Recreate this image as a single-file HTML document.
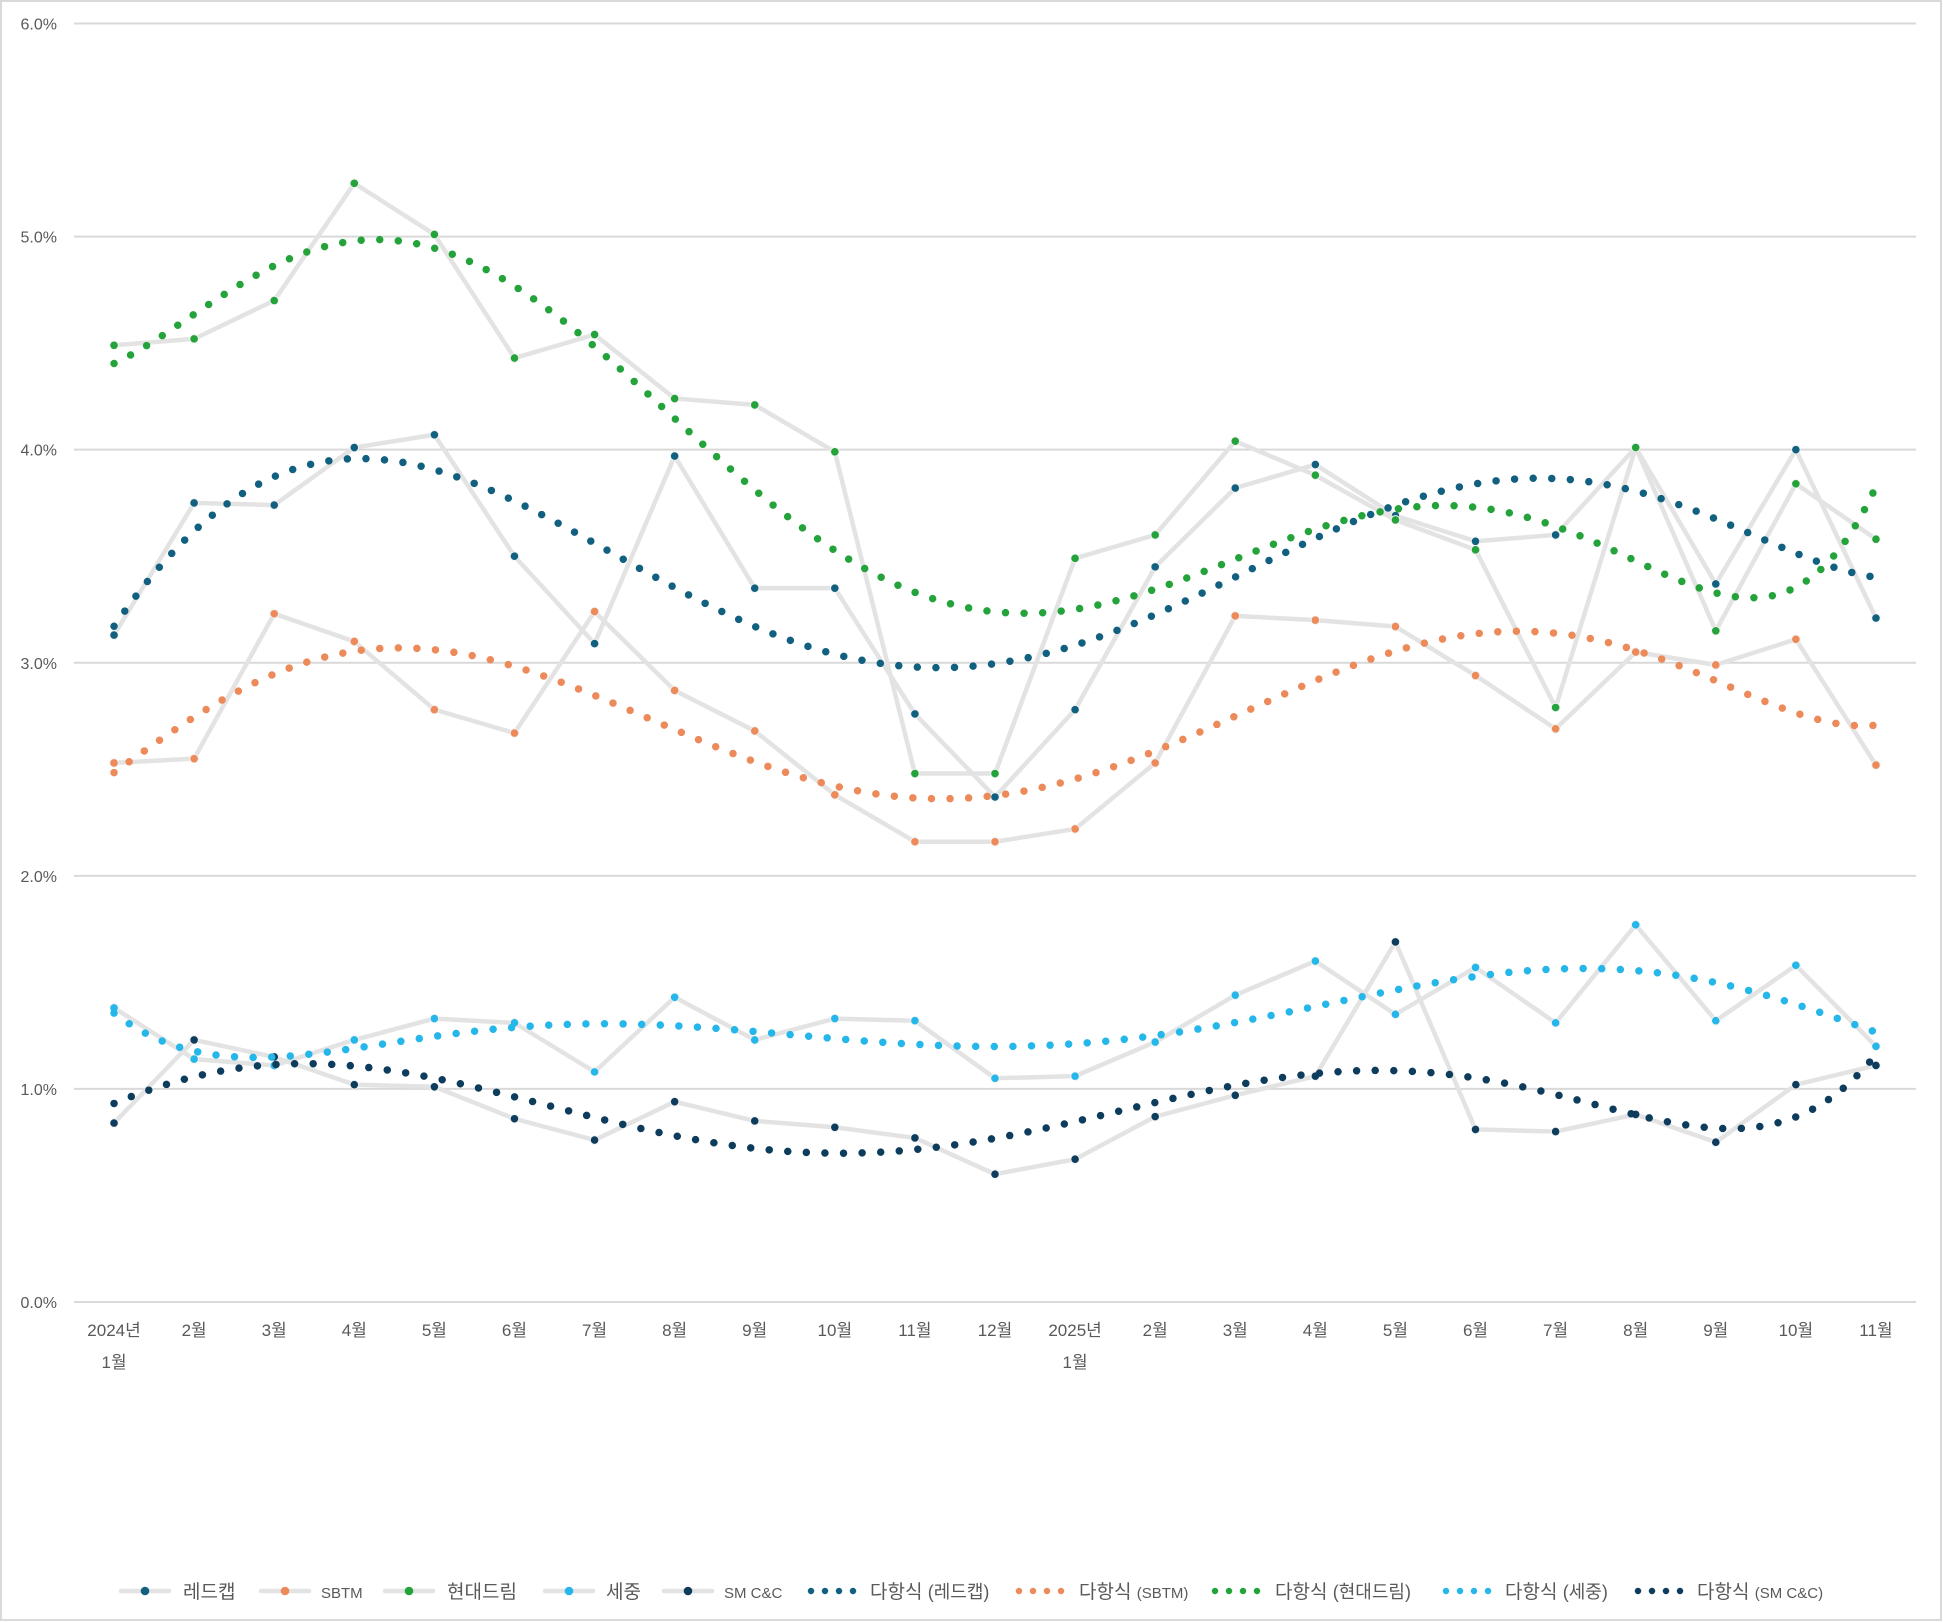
<!DOCTYPE html>
<html><head><meta charset="utf-8">
<style>
html,body{margin:0;padding:0;background:#fff;}
svg{display:block;font-family:"Liberation Sans","Noto Sans CJK KR",sans-serif;}
</style></head>
<body>
<svg id="chart" width="1943" height="1622" viewBox="0 0 1943 1622" xmlns="http://www.w3.org/2000/svg">
<rect x="1" y="1" width="1940" height="1619" fill="#fff" stroke="#d9d9d9" stroke-width="2"/>
<g id="grid"></g><g id="axes"></g><g id="lines"></g><g id="trends"></g><g id="legend"></g>
</svg>
<script>
const categories=["2024년|1월","2월","3월","4월","5월","6월","7월","8월","9월","10월","11월","12월","2025년|1월","2월","3월","4월","5월","6월","7월","8월","9월","10월","11월"];
const yTicks=[0,1,2,3,4,5,6];
const seriesNames=["레드캡","SBTM","현대드림","세중","SM C&C"];
const redcap=[3.13,3.75,3.74,4.01,4.07,3.50,3.09,3.97,3.35,3.35,2.76,2.37,2.78,3.45,3.82,3.93,3.69,3.57,3.60,4.01,3.37,4.00,3.21];
const sbtm=[2.53,2.55,3.23,3.10,2.78,2.67,3.24,2.87,2.68,2.38,2.16,2.16,2.22,2.53,3.22,3.20,3.17,2.94,2.69,3.05,2.99,3.11,2.52];
const hyundai=[4.49,4.52,4.70,5.25,5.01,4.43,4.54,4.24,4.21,3.99,2.48,2.48,3.49,3.60,4.04,3.88,3.67,3.53,2.79,4.01,3.15,3.84,3.58];
const sejung=[1.38,1.14,1.11,1.23,1.33,1.31,1.08,1.43,1.23,1.33,1.32,1.05,1.06,1.22,1.44,1.60,1.35,1.57,1.31,1.77,1.32,1.58,1.20];
const smcc=[0.84,1.23,1.15,1.02,1.01,0.86,0.76,0.94,0.85,0.82,0.77,0.60,0.67,0.87,0.97,1.06,1.69,0.81,0.80,0.88,0.75,1.02,1.11];
const colors=["#11607f","#ec8a5a","#23a33a","#25b6ea","#0d3c5c"];
const allSeries=[redcap,sbtm,hyundai,sejung,smcc];

const NS="http://www.w3.org/2000/svg";
const L=74,R=1916,T=23.5,B=1302,yMax=6;
const band=(R-L)/categories.length;
const xS=i=>L+band*(i+0.5);
const yS=v=>B-(B-T)*v/yMax;
function mk(tag,attrs,parent){const e=document.createElementNS(NS,tag);for(const k in attrs)e.setAttribute(k,attrs[k]);parent.appendChild(e);return e;}
const grid=document.getElementById('grid'),axes=document.getElementById('axes'),lines=document.getElementById('lines'),trends=document.getElementById('trends'),legend=document.getElementById('legend');

yTicks.forEach(t=>{
  const g=mk('line',{x1:L,x2:R,y1:yS(t),y2:yS(t),stroke:'#d9d9d9','stroke-width':2},grid);
  
  
  const tx=mk('text',{x:57,y:yS(t)+6,'text-anchor':'end','font-size':16,fill:'#595959'},axes);
  tx.textContent=t.toFixed(1)+'%';
  
  
});
categories.forEach((c,i)=>{
  const parts=c.split('|');
  parts.forEach((p,j)=>{
    const tx=mk('text',{x:xS(i),y:1336+j*32,'text-anchor':'middle','font-size':17,fill:'#595959'},axes);
    tx.textContent=p;
    
    
  });
});

function polyfit(ys,deg){
  const n=ys.length,xs=ys.map((_,i)=>(i-(n-1)/2)/((n-1)/2));
  const m=deg+1,A=[];
  for(let r=0;r<m;r++){A.push([]);for(let c=0;c<m;c++){let s=0;xs.forEach(x=>s+=Math.pow(x,r+c));A[r].push(s);}let s=0;xs.forEach((x,k)=>s+=Math.pow(x,r)*ys[k]);A[r].push(s);}
  for(let i=0;i<m;i++){let p=i;for(let k=i+1;k<m;k++)if(Math.abs(A[k][i])>Math.abs(A[p][i]))p=k;[A[i],A[p]]=[A[p],A[i]];
    for(let k=0;k<m;k++){if(k===i)continue;const f=A[k][i]/A[i][i];for(let c=i;c<=m;c++)A[k][c]-=f*A[i][c];}}
  const coef=A.map((r,i)=>r[m]/r[i]);
  return t=>{const x=(t-(n-1)/2)/((n-1)/2);let s=0;coef.forEach((c,i)=>s+=c*Math.pow(x,i));return s;};
}

allSeries.forEach((data,si)=>{
  const pts=data.map((v,i)=>xS(i)+','+yS(v)).join(' ');
  const pl=mk('polyline',{points:pts,fill:'none',stroke:'#e3e3e3','stroke-width':4.5,'stroke-linejoin':'round'},lines);
  
  
  data.forEach((v,i)=>{
    const c=mk('circle',{cx:xS(i),cy:yS(v),r:4.3,fill:colors[si],stroke:'#f2f2f2','stroke-width':1},lines);
    
    
  });
  const f=polyfit(data,6);let d='';
  for(let k=0;k<=220;k++){const t=k/10;d+=(k?'L':'M')+xS(t).toFixed(2)+','+yS(f(t)).toFixed(2);}
  const tp=mk('path',{d:d,fill:'none',stroke:colors[si],'stroke-width':7.5,'stroke-linecap':'round','stroke-dasharray':'0 18.6'},trends);
  
  
});

const legItems=[
 {x:121,tx:183,label:'레드캡',c:0,t:false,sm:false},{x:261,tx:321,label:'SBTM',c:1,t:false,sm:true},{x:385,tx:447,label:'현대드림',c:2,t:false,sm:false},
 {x:545,tx:606,label:'세중',c:3,t:false,sm:false},{x:664,tx:724,label:'SM C&C',c:4,t:false,sm:true},
 {x:808,tx:870,label:'다항식 (레드캡)',c:0,t:true,sm:false},{x:1016,tx:1079,label:'다항식 (SBTM)',c:1,t:true,sm:true},{x:1212,tx:1275,label:'다항식 (현대드림)',c:2,t:true,sm:false},
 {x:1443,tx:1505,label:'다항식 (세중)',c:3,t:true,sm:false},{x:1635,tx:1697,label:'다항식 (SM C&C)',c:4,t:true,sm:true}];
legItems.forEach(it=>{
  const g=mk('g',{},legend);
  
  
  const y=1591;
  if(!it.t){
    mk('line',{x1:it.x,x2:it.x+48,y1:y,y2:y,stroke:'#e3e3e3','stroke-width':4.5,'stroke-linecap':'round'},g);
    mk('circle',{cx:it.x+24,cy:y,r:4.3,fill:colors[it.c]},g);
  } else {
    mk('line',{x1:it.x+3,x2:it.x+48,y1:y,y2:y,stroke:colors[it.c],'stroke-width':6.5,'stroke-linecap':'round','stroke-dasharray':'0 14'},g);
  }
  const tx=mk('text',{x:it.tx,y:y+7,'font-size':it.sm&&!it.t?15:19,fill:'#595959'},g);
  if(it.t){const m=it.label.match(/^(\S+) (.*)$/);tx.innerHTML=m[1]+' <tspan font-size="'+(it.sm?15:18)+'">'+m[2]+'</tspan>';}
  else tx.textContent=it.label;
});
</script>
</body></html>
